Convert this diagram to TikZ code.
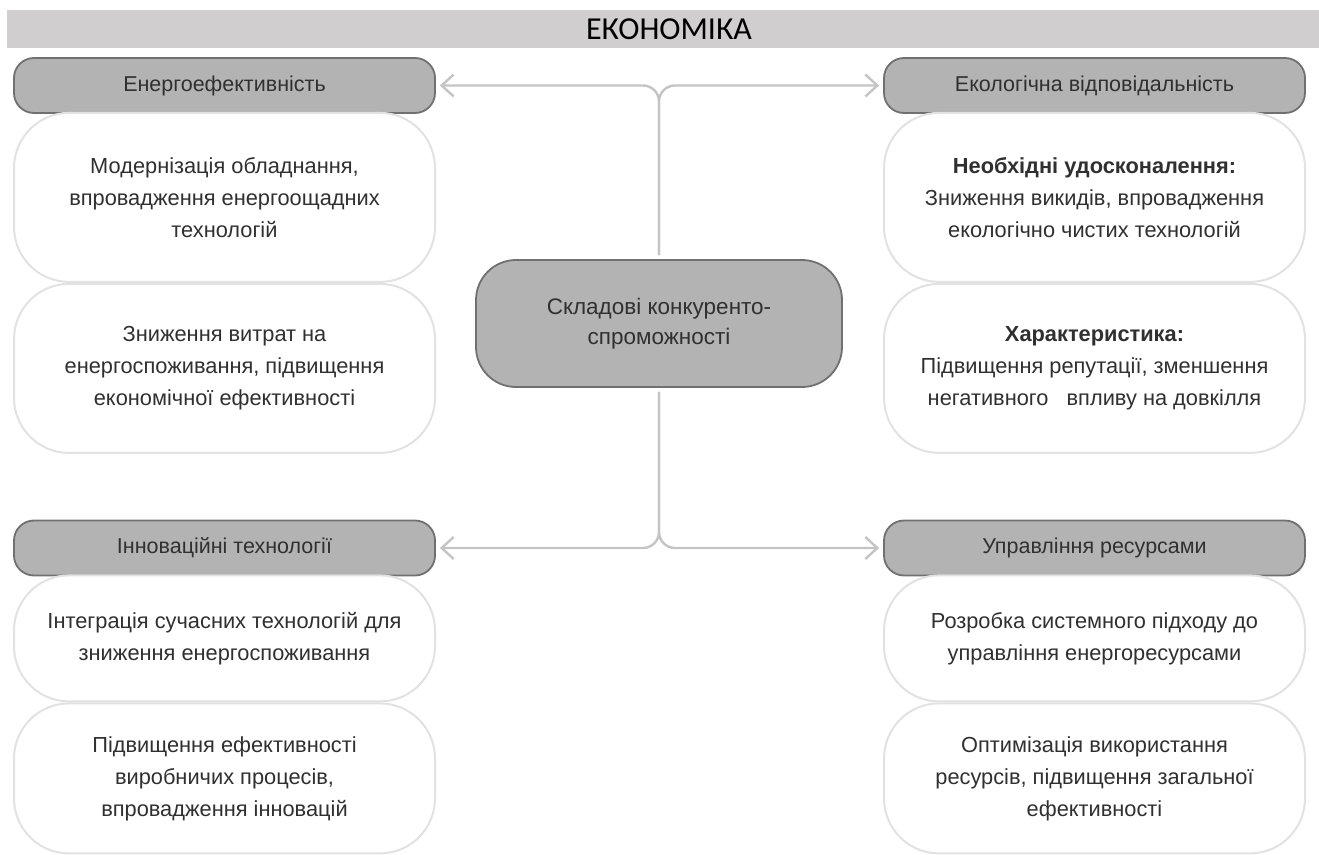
\documentclass[tikz,border=0pt]{standalone}
\usepackage{fontspec}
\setmainfont{Liberation Sans}
\newfontfamily\titlefont{Carlito}
\usepackage{tikz}
\usetikzlibrary{arrows.meta,positioning}
\definecolor{barfill}{HTML}{D0CECE}
\definecolor{headfill}{HTML}{B3B3B3}
\definecolor{headline}{HTML}{707070}
\definecolor{boxline}{HTML}{E2E2E2}
\definecolor{linkline}{HTML}{C4C4C4}
\definecolor{txt}{HTML}{303030}

\begin{document}
\begin{tikzpicture}[x=1pt,y=-1pt,
  titlebar/.style={fill=barfill, minimum width=1312pt, minimum height=38pt, inner sep=0pt,
    font=\titlefont\fontsize{32}{34}\selectfont},
  headbox/.style={draw=headline, line width=1.8pt, fill=headfill, rounded corners=20pt,
    minimum width=421pt, minimum height=55pt, text=txt, font=\fontsize{21.5}{26}\selectfont},
  infobox/.style={draw=boxline, line width=2pt, fill=white, rounded corners=55pt,
    minimum width=421pt, text=txt, align=center, font=\fontsize{21.8}{32}\selectfont},
  corebox/.style={draw=headline, line width=1.8pt, fill=headfill, rounded corners=40pt,
    minimum width=366pt, minimum height=127pt, text=txt, align=center,
    font=\fontsize{22.5}{30}\selectfont},
  link/.style={draw=linkline, line width=2.4pt, rounded corners=16pt,
    -{Straight Barb[length=12pt,width=22pt]}, shorten >=4pt, shorten <=4pt},
  node distance=0pt]
\useasboundingbox (0,0) rectangle (1319,854);

\node[titlebar] (econ) at (663,29) {\hspace*{12pt}ЕКОНОМІКА};

% upper row
\node[headbox] (energy) at (224.5,85.5) {Енергоефективність};
\node[infobox, minimum height=169pt, below=-2pt of energy] (energyA)
  {Модернізація обладнання,\\впровадження енергоощадних\\технологій};
\node[infobox, minimum height=169pt, below=of energyA] (energyB)
  {Зниження витрат на\\енергоспоживання, підвищення\\економічної ефективності};
\node[headbox] (ecology) at (1094.5,85.5) {Екологічна відповідальність};
\node[infobox, minimum height=169pt, below=-2pt of ecology] (ecologyA)
  {\textbf{Необхідні удосконалення:}\\Зниження викидів, впровадження\\екологічно чистих технологій};
\node[infobox, minimum height=169pt, below=of ecologyA] (ecologyB)
  {\textbf{Характеристика:}\\Підвищення репутації, зменшення\\негативного\ \ \ впливу на довкілля};

% lower row
\node[headbox] (innov) at (224.5,548) {Інноваційні технології};
\node[infobox, minimum height=126pt, below=-2pt of innov] (innovA)
  {Інтеграція сучасних технологій для\\зниження енергоспоживання};
\node[infobox, minimum height=150pt, below=of innovA] (innovB)
  {Підвищення ефективності\\виробничих процесів,\\впровадження інновацій};
\node[headbox] (resource) at (1094.5,548) {Управління ресурсами};
\node[infobox, minimum height=126pt, below=-2pt of resource] (resourceA)
  {Розробка системного підходу до\\управління енергоресурсами};
\node[infobox, minimum height=150pt, below=of resourceA] (resourceB)
  {Оптимізація використання\\ресурсів, підвищення загальної\\ефективності};

\node[corebox] (core) at (659,323.5) {Складові конкуренто-\\спроможності};

\draw[link] (core.north) |- (energy.east);
\draw[link] (core.north) |- (ecology.west);
\draw[link] (core.south) |- (innov.east);
\draw[link] (core.south) |- (resource.west);
\end{tikzpicture}
\end{document}
